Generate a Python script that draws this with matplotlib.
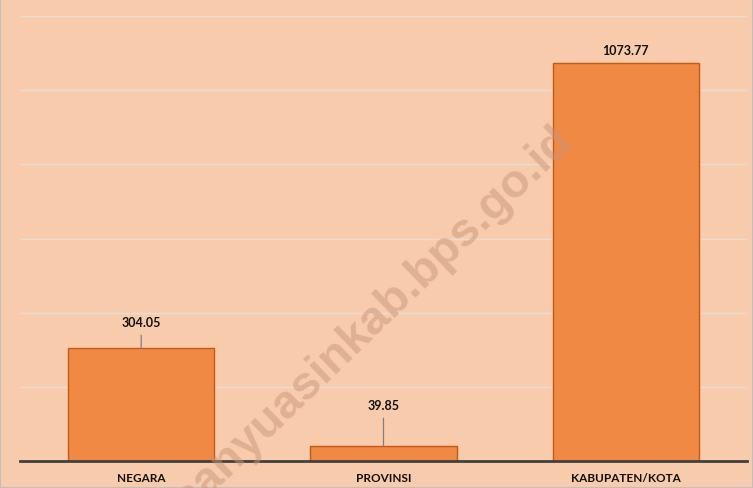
import matplotlib.pyplot as plt
from matplotlib.patches import Rectangle

categories = ["NEGARA", "PROVINSI", "KABUPATEN/KOTA"]
values = [304.05, 39.85, 1073.77]
yticks = [0, 200, 400, 600, 800, 1000, 1200]

# label offset above the bar top (pixels), and whether a leader line is drawn
label_offsets = [26, 41, 13]
leader = [True, True, False]

bg = "#F8CBAD"
fig = plt.figure(figsize=(7.53, 4.89), dpi=100, facecolor=bg)
ax = fig.add_axes([0.0266, 0.0552, 0.9654, 0.9098])
ax.set_facecolor(bg)

x = range(len(categories))
ax.bar(x, values, width=0.605, color="#EF8944", edgecolor="#C55A11", linewidth=1.0, zorder=3)

ax.set_xlim(-0.5, 2.5)
ax.set_ylim(0, 1200)
ax.set_yticks(yticks)
ax.yaxis.grid(True, color="#E4DED8", linewidth=1.0, zorder=0)
ax.tick_params(axis="y", left=False, labelleft=False)
ax.tick_params(axis="x", length=0, pad=8)
ax.set_xticks(list(x))
ax.set_xticklabels(categories, fontsize=8.5, fontweight="bold", family="Lato", color="#111111")

for s in ["top", "right", "left"]:
    ax.spines[s].set_visible(False)
ax.spines["bottom"].set_color("#404040")
ax.spines["bottom"].set_linewidth(2)
ax.spines["bottom"].set_zorder(4)

for i, v in enumerate(values):
    ap = None
    if leader[i]:
        ap = dict(arrowstyle="-", color="#7F7F7F", lw=0.9, shrinkA=3, shrinkB=0)
    ax.annotate(f"{v:.2f}", xy=(i, v), xytext=(0, label_offsets[i]), textcoords="offset pixels",
                ha="center", va="center", fontsize=9, fontweight="bold", family="Lato",
                color="#111111", arrowprops=ap, zorder=5)

# watermark
fig.text(0.494, 0.345, "banyuasinkab.bps.go.id", rotation=44, ha="center", va="center",
         fontsize=34, fontweight="bold", family="Liberation Sans", color="#C9957A",
         alpha=0.5, zorder=10)

fig.patches.append(Rectangle((0, 0), 1, 1, transform=fig.transFigure, fill=False,
                             edgecolor="#BFBFBF", linewidth=1.5))

fig.savefig("out.png", dpi=100, facecolor=bg)
